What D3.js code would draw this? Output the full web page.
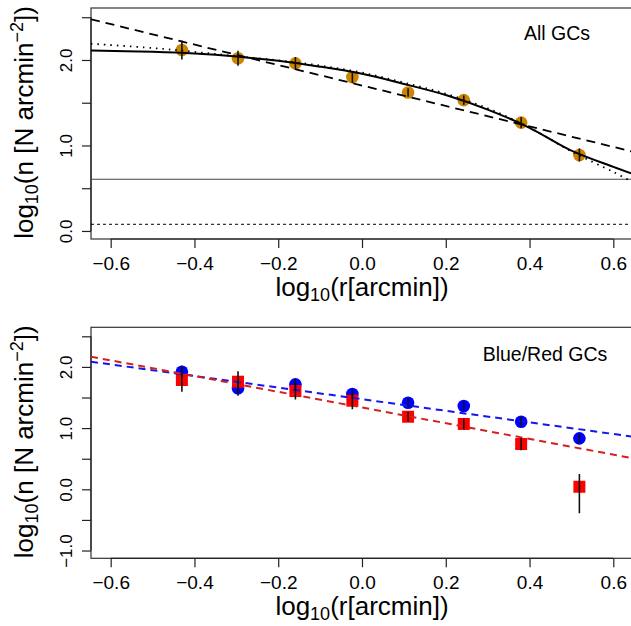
<!DOCTYPE html>
<html>
<head>
<meta charset="utf-8">
<script src="https://cdn.jsdelivr.net/npm/d3@7"></script>
<style>
  body { margin: 0; background: #fff; }
  svg { display: block; font-family: "Liberation Sans", Arial, sans-serif; }
</style>
</head>
<body>
<svg width="631" height="626"></svg>
<script>
// ---- data ----
const xTicks = [-0.6, -0.4, -0.2, 0, 0.2, 0.4, 0.6];
const xTickLabels = ["\u22120.6", "\u22120.4", "\u22120.2", "0.0", "0.2", "0.4", "0.6"];
const yTicksTop = [0, 0.5, 1, 1.5, 2, 2.5];
const yLabelsTop = {0: "0.0", 1: "1.0", 2: "2.0"};
const yTicksBot = [-1, -0.5, 0, 0.5, 1, 1.5, 2, 2.5];
const yLabelsBot = {"-1": "\u22121.0", 0: "0.0", 1: "1.0", 2: "2.0"};

const rBins = [-0.43, -0.296, -0.159, -0.023, 0.11, 0.243, 0.38, 0.519];
const allN = [2.117, 2.02, 1.96, 1.80, 1.62, 1.53, 1.267, 0.889];
const allErr = [0.11, 0.088, 0.075, 0.07, 0.05, 0.055, 0.065, 0.078];

const blueN = [1.92, 1.65, 1.715, 1.557, 1.415, 1.36, 1.105, 0.833];
const blueErr = [0.1, 0.12, 0.09, 0.08, 0.074, 0.074, 0.077, 0.08];
const redN = [1.786, 1.758, 1.606, 1.448, 1.186, 1.068, 0.74, 0.042];
const redErrHi = [0.19, 0.17, 0.14, 0.14, 0.08, 0.09, 0.1, 0.208];
const redErrLo = [0.19, 0.17, 0.14, 0.14, 0.08, 0.09, 0.1, 0.434];

// model curves (sampled from the plot)
const fitR = [-0.647, -0.5, -0.4, -0.3, -0.2, -0.1, 0, 0.1, 0.2, 0.3, 0.4, 0.5, 0.6, 0.647];
const kingFit = [2.11, 2.095, 2.075, 2.04, 1.99, 1.922, 1.838, 1.72, 1.59, 1.42, 1.207, 0.94, 0.75, 0.667];
const altFit = [2.19, 2.14, 2.095, 2.045, 1.995, 1.935, 1.852, 1.735, 1.605, 1.435, 1.21, 0.93, 0.69, 0.57];
const lineR = [-0.647, 0.647];
const powAll = [2.476, 0.927];
const powBlue = [2.085, 0.86];
const powRed = [2.167, 0.506];
const bgLevel = 0.605;
const bgLow = 0.078;

const svg = d3.select("svg");

const boxL = 91, boxR = 633;
const x = d3.scaleLinear().domain([-0.647, 0.647]).range([boxL, boxR]);

function panel(y0, y1, yDomain, yTicks, yLabels, id) {
  const y = d3.scaleLinear().domain(yDomain).range([y1, y0]);
  const g = svg.append("g").attr("id", id);

  g.append("clipPath").attr("id", id + "-clip")
    .append("rect").attr("x", boxL).attr("y", y0).attr("width", boxR - boxL).attr("height", y1 - y0);

  // box
  g.append("rect")
    .attr("x", boxL).attr("y", y0).attr("width", boxR - boxL).attr("height", y1 - y0)
    .attr("fill", "none").attr("stroke", "#333").attr("stroke-width", 1.2);

  // x axis
  const xa = g.append("g").attr("transform", `translate(0,${y1})`)
    .call(d3.axisBottom(x).tickValues(xTicks).tickSize(9).tickSizeOuter(0).tickFormat((d, i) => xTickLabels[i]));
  xa.select(".domain").attr("d", `M${x(-0.6)},0H${x(0.6)}`).attr("stroke", "#222").attr("stroke-width", 1.2);
  xa.selectAll(".tick line").attr("stroke", "#222").attr("stroke-width", 1.2);
  xa.selectAll(".tick text").attr("font-size", 19).attr("fill", "#000").attr("dy", null).attr("y", 30.5).style("font-family", "Liberation Sans");

  // y axis
  const ya = g.append("g").attr("transform", `translate(${boxL},0)`)
    .call(d3.axisLeft(y).tickValues(yTicks).tickSize(9).tickSizeOuter(0).tickFormat(d => yLabels[d] || ""));
  ya.select(".domain").attr("d", `M0,${y(yTicks[0])}V${y(yTicks[yTicks.length - 1])}`).attr("stroke", "#222").attr("stroke-width", 1.2);
  ya.selectAll(".tick line").attr("stroke", "#222").attr("stroke-width", 1.2);
  ya.selectAll(".tick text")
    .attr("font-size", 17).attr("fill", "#000").attr("x", null).attr("dy", null)
    .attr("text-anchor", "middle")
    .attr("transform", "translate(-19,0) rotate(-90)")
    .style("font-family", "Liberation Sans");

  // axis titles
  const xt = g.append("text").attr("x", x(0)).attr("y", y1 + 57)
    .attr("text-anchor", "middle").attr("font-size", 26);
  xt.append("tspan").text("log");
  xt.append("tspan").attr("font-size", 18).attr("dy", 5).text("10");
  xt.append("tspan").attr("dy", -5).text("(r[arcmin])");

  const cy = (y0 + y1) / 2 - 1;
  const yt = g.append("text").attr("transform", `translate(33,${cy}) rotate(-90)`)
    .attr("text-anchor", "middle").attr("font-size", 26);
  yt.append("tspan").text("log");
  yt.append("tspan").attr("font-size", 18).attr("dy", 5).text("10");
  yt.append("tspan").attr("dy", -5).text("(n [N arcmin");
  yt.append("tspan").attr("font-size", 18).attr("dy", -10).text("\u22122");
  yt.append("tspan").attr("dy", 10).text("])");

  return {g, y, clip: `url(#${id}-clip)`};
}

const line = (y) => d3.line().x(d => x(d[0])).y(d => y(d[1]));

// ---------- top panel: all GCs ----------
const pTop = panel(8, 239, [-0.094, 2.608], yTicksTop, yLabelsTop, "top");
const pts = pTop.g.append("g").attr("clip-path", pTop.clip);

pts.selectAll("circle").data(d3.zip(rBins, allN)).join("circle")
  .attr("cx", d => x(d[0])).attr("cy", d => pTop.y(d[1])).attr("r", 6.3)
  .attr("fill", "#CD8500");

pts.append("path").datum(lineR.map(v => [v, bgLevel])).attr("d", line(pTop.y))
  .attr("fill", "none").attr("stroke", "#444").attr("stroke-width", 1.2);
pts.append("path").datum(lineR.map(v => [v, bgLow])).attr("d", line(pTop.y))
  .attr("fill", "none").attr("stroke", "#000").attr("stroke-width", 1).attr("stroke-dasharray", "3,3");
pts.append("path").datum(d3.zip(lineR, powAll)).attr("d", line(pTop.y))
  .attr("fill", "none").attr("stroke", "#000").attr("stroke-width", 1.8).attr("stroke-dasharray", "9,6");
pts.append("path").datum(d3.zip(fitR, altFit)).attr("d", line(pTop.y).curve(d3.curveCatmullRom))
  .attr("fill", "none").attr("stroke", "#000").attr("stroke-width", 1.8).attr("stroke-dasharray", "1.5,5");
pts.append("path").datum(d3.zip(fitR, kingFit)).attr("d", line(pTop.y).curve(d3.curveCatmullRom))
  .attr("fill", "none").attr("stroke", "#000").attr("stroke-width", 2);

pts.selectAll("line.err").data(d3.zip(rBins, allN, allErr)).join("line").attr("class", "err")
  .attr("x1", d => x(d[0])).attr("x2", d => x(d[0]))
  .attr("y1", d => pTop.y(d[1] + d[2])).attr("y2", d => pTop.y(d[1] - d[2]))
  .attr("stroke", "#111").attr("stroke-width", 1.6);

pTop.g.append("text").attr("x", 557).attr("y", 40).attr("text-anchor", "middle")
  .attr("font-size", 19.5).text("All GCs");

// ---------- bottom panel: blue / red GCs ----------
const pBot = panel(327.3, 558.3, [-1.127, 2.647], yTicksBot, yLabelsBot, "bot");
const bp = pBot.g.append("g").attr("clip-path", pBot.clip);

bp.selectAll("circle").data(d3.zip(rBins, blueN)).join("circle")
  .attr("cx", d => x(d[0])).attr("cy", d => pBot.y(d[1])).attr("r", 6.3)
  .attr("fill", "#0000FF");
bp.selectAll("rect.red").data(d3.zip(rBins, redN)).join("rect").attr("class", "red")
  .attr("x", d => x(d[0]) - 6).attr("y", d => pBot.y(d[1]) - 6).attr("width", 12).attr("height", 12)
  .attr("fill", "#FF0000");

bp.append("path").datum(d3.zip(lineR, powBlue)).attr("d", line(pBot.y))
  .attr("fill", "none").attr("stroke", "#1515F0").attr("stroke-width", 2).attr("stroke-dasharray", "7,5");
bp.append("path").datum(d3.zip(lineR, powRed)).attr("d", line(pBot.y))
  .attr("fill", "none").attr("stroke", "#D42020").attr("stroke-width", 2).attr("stroke-dasharray", "7,5");

bp.selectAll("line.berr").data(d3.zip(rBins, blueN, blueErr)).join("line").attr("class", "berr")
  .attr("x1", d => x(d[0])).attr("x2", d => x(d[0]))
  .attr("y1", d => pBot.y(d[1] + d[2])).attr("y2", d => pBot.y(d[1] - d[2]))
  .attr("stroke", "#111").attr("stroke-width", 1.6);
bp.selectAll("line.rerr").data(d3.zip(rBins, redN, redErrHi, redErrLo)).join("line").attr("class", "rerr")
  .attr("x1", d => x(d[0])).attr("x2", d => x(d[0]))
  .attr("y1", d => pBot.y(d[1] + d[2])).attr("y2", d => pBot.y(d[1] - d[3]))
  .attr("stroke", "#111").attr("stroke-width", 1.6);

pBot.g.append("text").attr("x", 545).attr("y", 360.5).attr("text-anchor", "middle")
  .attr("font-size", 19.5).text("Blue/Red GCs");
</script>
</body>
</html>
